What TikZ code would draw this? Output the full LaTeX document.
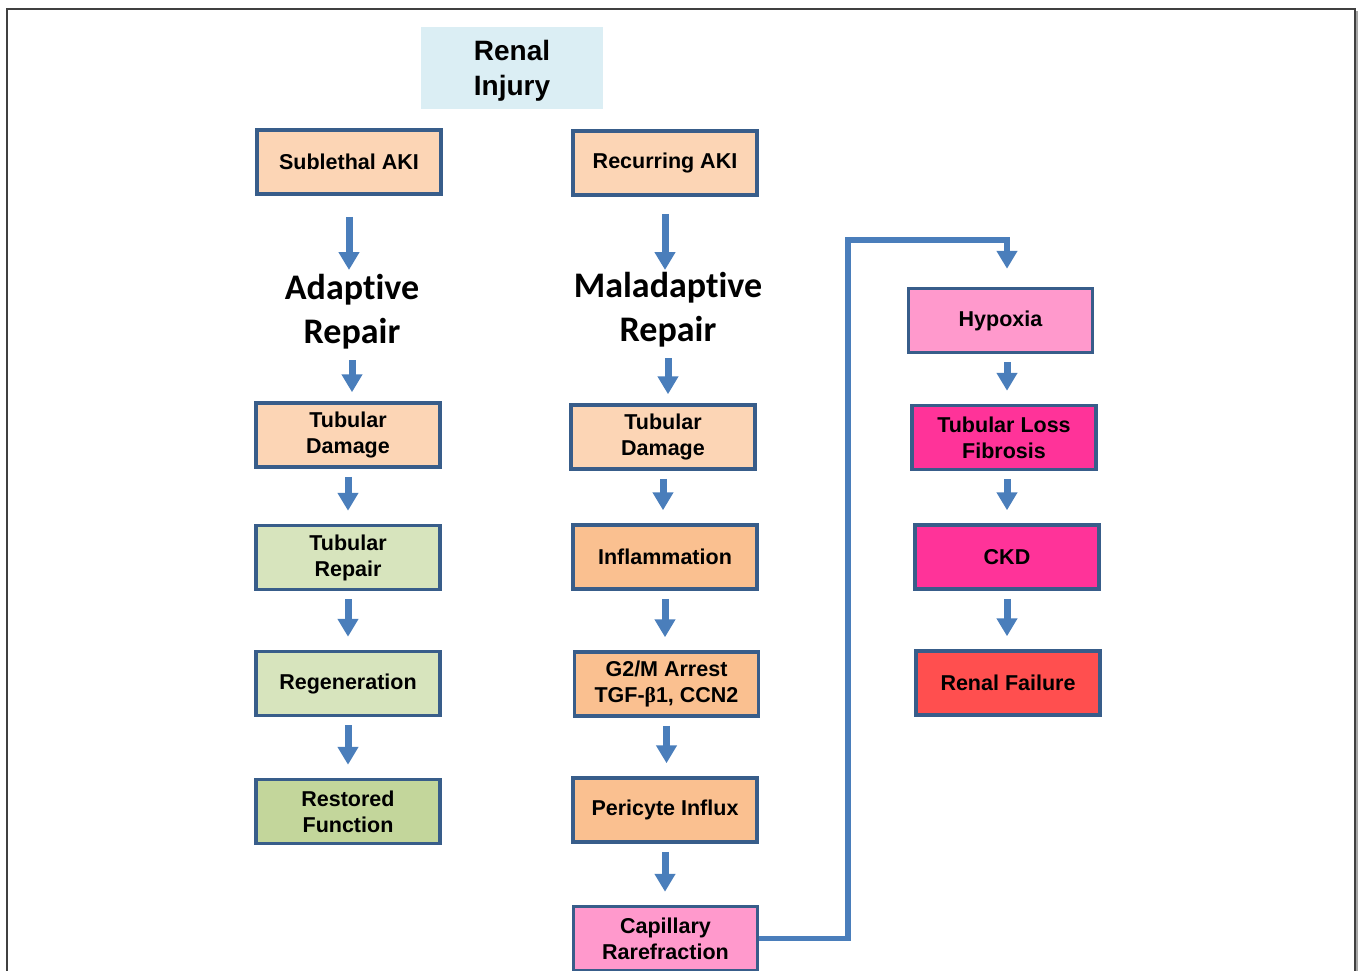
\documentclass[tikz,border=0pt]{standalone}
\usepackage{fontspec}
\setmainfont{Liberation Sans}
\newfontfamily\headfont{Carlito}[Ligatures=NoCommon]
\newfontfamily\greekfont{Liberation Serif}
\usetikzlibrary{arrows.meta}

\definecolor{boxline}{HTML}{385D8A}
\definecolor{flowblue}{HTML}{4A7EBB}
\definecolor{injuryblue}{HTML}{DBEEF4}
\definecolor{peachlight}{HTML}{FCD5B5}
\definecolor{peach}{HTML}{FAC090}
\definecolor{greenlight}{HTML}{D7E4BD}
\definecolor{greenmid}{HTML}{C3D69B}
\definecolor{pinklight}{HTML}{FF99CC}
\definecolor{hotpink}{HTML}{FF3399}
\definecolor{failred}{HTML}{FF4F4F}
\definecolor{framegray}{HTML}{404040}

\tikzset{
  stage/.style={draw=boxline, line width=3.5pt, minimum width=184pt, minimum height=64pt,
    inner sep=0pt, align=center, font=\fontsize{21.5}{26}\selectfont\bfseries},
  phase/.style={anchor=north, inner sep=0pt, align=center,
    font=\headfont\fontsize{36}{44}\selectfont\bfseries},
  flow/.style={draw=flowblue, line width=7pt, -{Triangle[width=20pt,length=18pt]},
    shorten <=8pt, shorten >=13pt}
}

\begin{document}
\begin{tikzpicture}[x=1pt, y=-1pt]
        \useasboundingbox (0,0) rectangle (1358,970);
        \clip (0,0) rectangle (1358,970);
        % frame
        \draw [line width=1.5pt, framegray] (7,975) -- (7,9) -- (1355,9) -- (1355,975);
        \draw [line width=2.5pt, gray!70] (1357.5,11) -- (1357.5,975);

        \node [fill=injuryblue, minimum width=182pt, minimum height=82pt] (injury) at (512,68) {};
        \node [align=center, font=\fontsize{28}{35}\selectfont\bfseries] (injurylabel)
            at ([yshift=-3pt]injury.center) {Renal\\Injury};

        % adaptive branch
        \node [stage, fill=peachlight] (sublethal) at (349,162) {Sublethal AKI};
        \node [phase] (adaptive) at (352,274) {Adaptive\\Repair};
        \node [stage, fill=peachlight] (damageA) at (348,435) {Tubular\\Damage};
        \node [stage, fill=greenlight] (repair) at (348,557.5) {Tubular\\Repair};
        \node [stage, fill=greenlight] (regen) at (348,683.5) {Regeneration};
        \node [stage, fill=greenmid] (restored) at (348,811.5) {Restored\\Function};

        % maladaptive branch
        \node [stage, fill=peachlight] (recurring) at (665,163) {Recurring AKI};
        \node [phase] (maladaptive) at (668,272) {Maladaptive\\Repair};
        \node [stage, fill=peachlight] (damageM) at (663,437) {Tubular\\Damage};
        \node [stage, fill=peach] (inflam) at (665,557) {Inflammation};
        \node [stage, fill=peach] (arrest) at (666.5,684) {G2/M Arrest\\TGF-{\greekfont β}1, CCN2};
        \node [stage, fill=peach] (pericyte) at (665,810) {Pericyte Influx};
        \node [stage, fill=pinklight] (capillary) at (665.5,938.5) {Capillary\\Rarefraction};

        % progression
        \node [stage, fill=pinklight] (hypoxia) at (1000.5,320.5) {Hypoxia};
        \node [stage, fill=hotpink] (fibrosis) at (1004,437.5) {Tubular Loss\\Fibrosis};
        \node [stage, fill=hotpink] (ckd) at (1007,557) {CKD};
        \node [stage, fill=failred] (failure) at (1008,683) {Renal Failure};

        \draw [flow, shorten <=21pt, shorten >=4pt] (sublethal.south) -- (sublethal.south |- adaptive.north);
        \draw [flow, shorten <=17pt, shorten >=2pt] (recurring.south) -- (recurring.south |- maladaptive.north);
        \draw [flow, shorten <=11pt, shorten >=9pt] (adaptive.south) -- (adaptive.south |- damageA.north);
        \draw [flow, shorten <=11pt, shorten >=9pt] (maladaptive.south) -- (maladaptive.south |- damageM.north);
        \foreach \a/\b in {damageA/repair, repair/regen, regen/restored,
                           damageM/inflam, inflam/arrest, arrest/pericyte, pericyte/capillary}
            \draw [flow] (\a.south) -- (\a.south |- \b.north);
        \foreach \a/\b in {hypoxia/fibrosis, fibrosis/ckd, ckd/failure}
            \draw [flow] (\a.south -| ckd.north) -- (ckd.north |- \b.north);

        \draw [flow, line width=5.5pt, shorten <=0pt, shorten >=18pt]
            (capillary.east) -| (848,240) -| (ckd.north |- hypoxia.north);
\end{tikzpicture}
\end{document}
